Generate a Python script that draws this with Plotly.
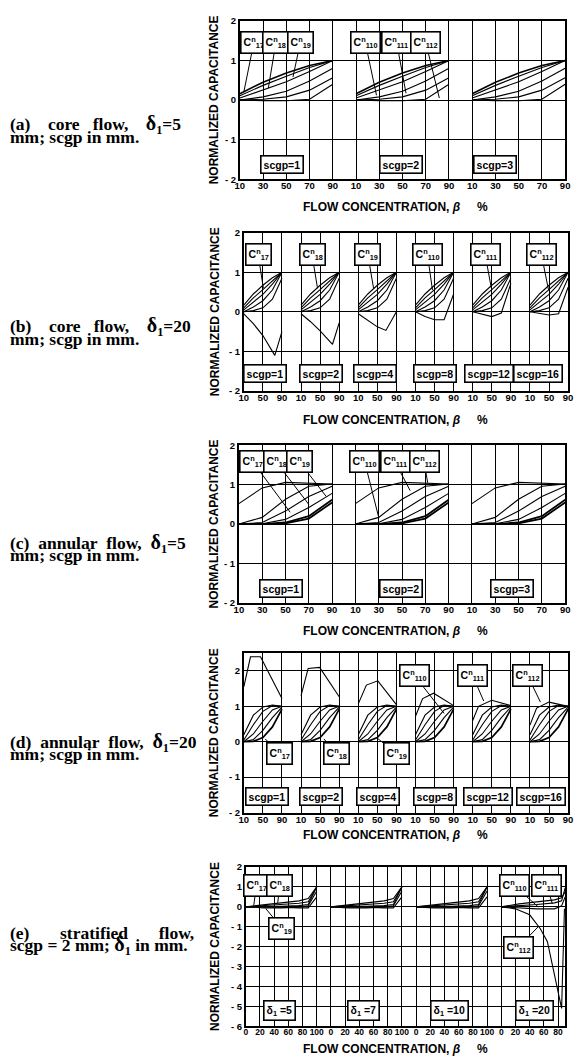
import plotly.graph_objects as go

W, H = 579, 1064

# ------------------------------------------------------------------ data
# (a) core flow, delta1 = 5 mm
A_LABELS = ["scgp=1", "scgp=2", "scgp=3"]
A_BETA = [10, 30, 50, 70, 90]
A_CURVES = [
    [0.16, 0.45, 0.68, 0.87, 1.00],
    [0.11, 0.37, 0.60, 0.82, 1.00],
    [0.05, 0.25, 0.46, 0.72, 1.00],
    [0.00, 0.08, 0.22, 0.48, 0.80],
    [0.00, 0.02, 0.08, 0.25, 0.56],
    [0.00, -0.02, -0.02, 0.02, 0.40],
]

# (b) core flow, delta1 = 20 mm
B_LABELS = ["scgp=1", "scgp=2", "scgp=4", "scgp=8", "scgp=12", "scgp=16"]
B_BETA = [10, 30, 50, 70, 90]
B_CURVES = [
    [0.17, 0.45, 0.67, 0.86, 1.00],
    [0.10, 0.35, 0.56, 0.79, 1.00],
    [0.05, 0.24, 0.44, 0.70, 1.00],
    [0.00, 0.12, 0.28, 0.55, 1.00],
    [0.00, 0.03, 0.10, 0.32, 0.85],
]
B_SPECIAL_BETA = [
    [10, 30, 50, 65, 75, 90],
    [10, 30, 50, 65, 76, 90],
    [10, 30, 50, 68, 90],
    [10, 30, 50, 70, 90],
    [10, 30, 50, 70, 90],
    [10, 30, 50, 70, 90],
]
B_SPECIAL_VALUES = [
    [-0.05, -0.30, -0.60, -0.90, -1.10, -0.50],
    [-0.05, -0.25, -0.48, -0.68, -0.82, -0.28],
    [-0.05, -0.22, -0.38, -0.47, 0.00],
    [0.00, -0.12, -0.20, -0.20, 0.45],
    [0.00, -0.06, -0.12, -0.03, 0.72],
    [0.00, -0.04, -0.08, -0.05, 0.62],
]

# (c) annular flow, delta1 = 5 mm
C_LABELS = ["scgp=1", "scgp=2", "scgp=3"]
C_BETA = [10, 30, 50, 70, 90]
C_CURVES = [
    [0.52, 0.92, 1.06, 1.04, 1.02],
    [0.00, 0.17, 0.63, 0.96, 1.02],
    [0.00, 0.04, 0.33, 0.70, 0.96],
    [0.00, 0.01, 0.12, 0.42, 0.78],
    [0.00, 0.00, 0.04, 0.20, 0.62],
    [0.00, 0.00, 0.02, 0.14, 0.55],
]

# (d) annular flow, delta1 = 20 mm
D_LABELS = ["scgp=1", "scgp=2", "scgp=4", "scgp=8", "scgp=12", "scgp=16"]
D_BETA = [10, 30, 50, 70, 90]
D_CURVES = [
    [0.20, 0.75, 0.98, 1.04, 1.00],
    [0.05, 0.48, 0.86, 1.02, 1.00],
    [0.00, 0.22, 0.58, 0.90, 1.00],
    [0.00, 0.06, 0.32, 0.68, 0.98],
    [0.00, 0.01, 0.12, 0.42, 0.92],
]
D_SPECIAL_BETA = [
    [10, 24, 45, 90],
    [10, 25, 49, 90],
    [10, 27, 51, 90],
    [10, 25, 48, 90],
    [10, 22, 50, 90],
    [10, 24, 50, 90],
]
D_SPECIAL_VALUES = [
    [1.55, 2.40, 2.40, 1.22],
    [1.30, 2.07, 2.10, 1.27],
    [1.07, 1.60, 1.72, 1.05],
    [0.72, 1.22, 1.37, 1.02],
    [0.60, 1.00, 1.17, 1.02],
    [0.47, 0.95, 1.12, 1.00],
]

# (e) stratified flow, scgp = 2 mm
E_LABELS = ["δ<sub>1</sub> =5", "δ<sub>1</sub> =7", "δ<sub>1</sub> =10", "δ<sub>1</sub> =20"]
E_BETA = [0, 25, 50, 75, 88, 100]
E_CURVES = [
    [0.00, 0.10, 0.20, 0.30, 0.42, 1.00],
    [0.00, 0.05, 0.10, 0.18, 0.25, 1.00],
    [0.00, 0.00, 0.03, 0.06, 0.12, 1.00],
    [0.00, -0.05, -0.05, -0.02, 0.05, 0.80],
    [0.00, 0.00, -0.02, -0.05, -0.05, 0.50],
]
E20_BETA = [0, 25, 50, 75, 85, 90]
E20_CURVES = [
    [0.00, 0.15, 0.25, 0.35, 0.45, 0.75],
    [0.00, 0.05, 0.12, 0.20, 0.30, 0.95],
    [0.00, -0.05, -0.10, -0.10, 0.05, 0.50],
]
E20_C112_BETA = [0, 20, 40, 55, 65, 85, 89]
E20_C112_VALUES = [0.00, -0.10, -0.40, -1.10, -1.75, -5.10, -0.10]

# tick labels
X_TICKS_FIVE = [10, 30, 50, 70, 90]
X_TICKS_FIVE_TEXT = ["10", "30", "50", "70", "90"]
X_TICKS_THREE = [10, 50, 90]
X_TICKS_THREE_TEXT = ["10", "50", "90"]
X_TICKS_E = [0, 20, 40, 60, 80, 100]
X_TICKS_E_TEXT = ["0", "20", "40", "60", "80", "100"]
Y_TICKS = [-2, -1, 0, 1, 2]
Y_TICKS_TEXT = ["- 2", "- 1", "0", "1", "2"]
Y_TICKS_E = [-6, -5, -4, -3, -2, -1, 0, 1, 2]
Y_TICKS_E_TEXT = ["- 6", "- 5", "- 4", "- 3", "- 2", "- 1", "0", "1", "2"]

# ------------------------------------------------------------------ layout helpers
def fx(px):
    return px / W


def fy(py):
    return 1 - py / H


SANS = "Liberation Sans"
SERIF = "Liberation Serif"
TICK_FONT = dict(family=SANS, size=9.5, color="black", weight="bold")
TICK_FONT_E = dict(family=SANS, size=8.5, color="black", weight="bold")
BOX_FONT = dict(family=SANS, size=10.5, color="black", weight="bold")
TITLE_FONT = dict(family=SANS, size=12, color="black", weight="bold")
SIDE_FONT = dict(family=SERIF, size=17.5, color="black", weight="bold")

PANELS = [
    dict(xpx=(239, 570), ypx=(15, 175), xr=[10, 290], yr=[-2, 2], off=100, nsub=3,
         xt=X_TICKS_FIVE, xtt=X_TICKS_FIVE_TEXT, yt=Y_TICKS, ytt=Y_TICKS_TEXT, tf=TICK_FONT),
    dict(xpx=(243, 573), ypx=(229, 389), xr=[10, 690], yr=[-2, 2], off=120, nsub=6,
         xt=X_TICKS_THREE, xtt=X_TICKS_THREE_TEXT, yt=Y_TICKS, ytt=Y_TICKS_TEXT, tf=TICK_FONT),
    dict(xpx=(238, 570), ypx=(444, 603), xr=[10, 290], yr=[-2, 2], off=100, nsub=3,
         xt=X_TICKS_FIVE, xtt=X_TICKS_FIVE_TEXT, yt=Y_TICKS, ytt=Y_TICKS_TEXT, tf=TICK_FONT),
    dict(xpx=(243, 573), ypx=(654, 815), xr=[10, 690], yr=[-2, 2.5], off=120, nsub=6,
         xt=X_TICKS_THREE, xtt=X_TICKS_THREE_TEXT, yt=Y_TICKS, ytt=Y_TICKS_TEXT, tf=TICK_FONT),
    dict(xpx=(245, 570), ypx=(870, 1031), xr=[0, 450], yr=[-6, 2], off=120, nsub=4,
         xt=X_TICKS_E, xtt=X_TICKS_E_TEXT, yt=Y_TICKS_E, ytt=Y_TICKS_E_TEXT, tf=TICK_FONT_E),
]

fig = go.Figure()


def ax_names(i):
    s = "" if i == 0 else str(i + 1)
    return "x" + s, "y" + s


def add_curve(i, xs, ys, width=1.1):
    xa, ya = ax_names(i)
    fig.add_trace(go.Scatter(x=xs, y=ys, mode="lines", xaxis=xa, yaxis=ya,
                             line=dict(color="black", width=width),
                             showlegend=False, hoverinfo="skip"))


def shifted(beta, k, off):
    return [b + k * off for b in beta]


# (a)
for k in range(3):
    for j, c in enumerate(A_CURVES):
        add_curve(0, shifted(A_BETA, k, 100), c, 1.6 if j == 0 else 1.1)
# (b)
for k in range(6):
    for c in B_CURVES:
        add_curve(1, shifted(B_BETA, k, 120), c)
    add_curve(1, shifted(B_SPECIAL_BETA[k], k, 120), B_SPECIAL_VALUES[k])
# (c)
for k in range(3):
    for j, c in enumerate(C_CURVES):
        add_curve(2, shifted(C_BETA, k, 100), c, 1.8 if j >= 4 else 1.1)
# (d)
for k in range(6):
    for j, c in enumerate(D_CURVES):
        add_curve(3, shifted(D_BETA, k, 120), c, 1.7 if j == 4 else 1.1)
    add_curve(3, shifted(D_SPECIAL_BETA[k], k, 120), D_SPECIAL_VALUES[k])
# (e)
for k in range(3):
    for c in E_CURVES:
        add_curve(4, shifted(E_BETA, k, 120), c)
for c in E20_CURVES:
    add_curve(4, shifted(E20_BETA, 3, 120), c)
add_curve(4, shifted(E20_C112_BETA, 3, 120), E20_C112_VALUES)

# axes
layout = dict(width=W, height=H, paper_bgcolor="white", plot_bgcolor="white",
              margin=dict(l=0, r=0, t=0, b=0), showlegend=False)
for i, p in enumerate(PANELS):
    s = "" if i == 0 else str(i + 1)
    tv, tt = [], []
    for k in range(p["nsub"]):
        for v, t in zip(p["xt"], p["xtt"]):
            tv.append(v + k * p["off"])
            tt.append(t)
    layout["xaxis" + s] = dict(
        domain=[fx(p["xpx"][0]), fx(p["xpx"][1])], range=p["xr"], anchor="y" + s,
        tickmode="array", tickvals=tv, ticktext=tt, tickfont=p["tf"], ticks="",
        ticklabelstandoff=-3,
        tickangle=0, showgrid=True, gridcolor="black", gridwidth=1.2, zeroline=False,
        showline=True, linecolor="black", linewidth=1.7, mirror=True, fixedrange=True)
    layout["yaxis" + s] = dict(
        domain=[fy(p["ypx"][1]), fy(p["ypx"][0])], range=p["yr"], anchor="x" + s,
        tickmode="array", tickvals=p["yt"], ticktext=p["ytt"], tickfont=TICK_FONT, ticks="",
        showgrid=True, gridcolor="black", gridwidth=1.2, zeroline=False,
        showline=True, linecolor="black", linewidth=1.7, mirror=True, fixedrange=True)

annotations = []


def box(i, text, x, y):
    xa, ya = ax_names(i)
    annotations.append(dict(xref=xa, yref=ya, x=x, y=y, text=text, showarrow=False,
                            font=BOX_FONT, bgcolor="white", bordercolor="black",
                            borderwidth=1.6, borderpad=2))


def callout(i, text, bx, by, tx, ty):
    xa, ya = ax_names(i)
    annotations.append(dict(xref=xa, yref=ya, x=tx, y=ty, ax=bx, ay=by, axref=xa, ayref=ya,
                            text=text, showarrow=True, arrowhead=0, arrowwidth=1,
                            arrowcolor="black", font=BOX_FONT, bgcolor="white",
                            bordercolor="black", borderwidth=1.6, borderpad=2))


def cn(sub):
    return "C<sup>n</sup><sub>" + sub + "</sub>"


# subpanel label boxes
for lab, x in zip(A_LABELS, [46, 149, 230]):
    box(0, lab, x, -1.63)
for lab, x in zip(B_LABELS, [55, 171, 286, 410, 524, 627]):
    box(1, lab, x, -1.55)
for lab, x in zip(C_LABELS, [46, 149, 244]):
    box(2, lab, x, -1.63)
for lab, x in zip(D_LABELS, [59, 171, 292, 410, 523, 634]):
    box(3, lab, x, -1.54)
for lab, x in zip(E_LABELS, [48, 166, 287, 407]):
    box(4, lab, x, -5.18)

# curve callouts
callout(0, cn("17"), 22, 1.45, 13.4, 0.2)
callout(0, cn("18"), 41, 1.45, 34.5, 0.3)
callout(0, cn("19"), 62, 1.45, 55.7, 0.58)
callout(0, cn("110"), 118, 1.45, 127.6, 0.12)
callout(0, cn("111"), 145, 1.45, 153, 0.17)
callout(0, cn("112"), 170, 1.45, 181.7, 0.05)

callout(1, cn("17"), 40, 1.45, 51, 0.6)
callout(1, cn("18"), 153, 1.45, 164.5, 0.6)
callout(1, cn("19"), 270, 1.45, 282, 0.6)
callout(1, cn("110"), 395, 1.45, 405.6, 0.55)
callout(1, cn("111"), 516, 1.45, 529, 0.6)
callout(1, cn("112"), 634, 1.45, 649, 0.55)

callout(2, cn("17"), 22, 1.58, 54, 0.3)
callout(2, cn("18"), 42, 1.58, 70, 0.5)
callout(2, cn("19"), 62, 1.58, 85, 0.7)
callout(2, cn("110"), 118, 1.58, 130, 0.17)
callout(2, cn("111"), 144, 1.58, 157, 0.85)
callout(2, cn("112"), 169, 1.58, 172, 1.05)

callout(3, cn("17"), 85, -0.33, 55, 0.08)
callout(3, cn("18"), 205, -0.33, 178, 0.08)
callout(3, cn("19"), 330, -0.33, 290, 0.1)
callout(3, cn("110"), 368, 1.87, 430, 0.8)
callout(3, cn("111"), 490, 1.87, 513, 1.15)
callout(3, cn("112"), 605, 1.87, 632, 1.12)

callout(4, cn("17"), 15, 1.07, 11, 0.0)
callout(4, cn("18"), 48, 1.07, 45, 0.2)
callout(4, cn("19"), 51, -1.07, 28, -0.08)
callout(4, cn("110"), 378, 1.07, 412, 0.0)
callout(4, cn("111"), 424, 1.07, 432, 0.15)
callout(4, cn("112"), 384, -2.03, 412, -1.0)

# axis titles
for i, p in enumerate(PANELS):
    yc = (p["ypx"][0] + p["ypx"][1]) / 2
    annotations.append(dict(xref="paper", yref="paper", x=fx(213), y=fy(yc),
                            text="NORMALIZED CAPACITANCE", textangle=-90, showarrow=False,
                            font=TITLE_FONT, xanchor="center", yanchor="middle"))
XT_Y = [203, 418, 632, 838, 1054]
for yy in XT_Y:
    annotations.append(dict(xref="paper", yref="paper", x=fx(397), y=fy(yy),
                            text="FLOW CONCENTRATION, <i>β</i>\u00a0\u00a0\u00a0\u00a0\u00a0%",
                            showarrow=False, font=TITLE_FONT,
                            xanchor="center", yanchor="middle"))

# side captions
BIG_D = "<span style='font-size:20px'>δ</span><sub>1</sub>"
SP = "\u00a0"
SIDE = [
    ("(a)" + SP * 4 + "core" + SP * 3 + "flow," + SP * 4 + BIG_D + "=5", 120),
    ("mm; scgp in mm.", 132),
    ("(b)" + SP * 4 + "core" + SP * 3 + "flow," + SP * 4 + BIG_D + "=20", 324),
    ("mm; scgp in mm.", 336),
    ("(c)" + SP * 2 + "annular" + SP * 2 + "flow," + SP * 2 + BIG_D + "=5", 543),
    ("mm; scgp in mm.", 555),
    ("(d)" + SP * 2 + "annular" + SP * 2 + "flow," + SP * 2 + BIG_D + "=20", 744),
    ("mm; scgp in mm.", 756),
    ("(e)" + SP * 7 + "stratified" + SP * 7 + "flow,", 937),
    ("scgp = 2 mm; " + BIG_D + " in mm.", 949),
]
for txt, yy in SIDE:
    annotations.append(dict(xref="paper", yref="paper", x=fx(3), y=fy(yy), text=txt,
                            showarrow=False, font=SIDE_FONT, xanchor="left", yanchor="middle"))

layout["annotations"] = annotations
fig.update_layout(**layout)
fig.write_html("out.html", config={"displayModeBar": False},
               post_script="document.body.style.margin='0px';document.body.style.overflow='hidden';")
